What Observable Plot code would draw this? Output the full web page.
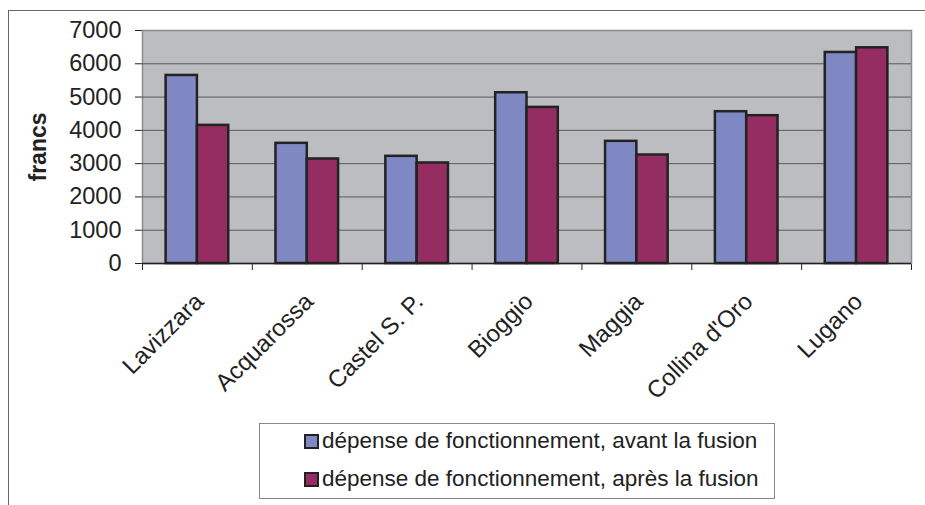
<!DOCTYPE html>
<html>
<head>
<meta charset="utf-8">
<script src="https://cdn.jsdelivr.net/npm/d3@7"></script>
<script src="https://cdn.jsdelivr.net/npm/@observablehq/plot@0.6"></script>
<style>
  html, body { margin: 0; padding: 0; background: #fff; }
  #wrap { position: relative; width: 925px; height: 505px; overflow: hidden; font-family: "Liberation Sans", Arial, sans-serif; }
  #border { position: absolute; left: 8px; top: 10px; right: -2px; bottom: -2px; border-top: 1px solid #666; border-left: 1px solid #666; pointer-events: none; }
  #legend { position: absolute; left: 259px; top: 423px; width: 516px; height: 76px; border: 1px solid #888; box-sizing: border-box; background: #fff; font-size: 22.5px; color: #222; }
  .row { position: absolute; left: 44px; display: flex; align-items: center; white-space: nowrap; }
  .sw { width: 11px; height: 11px; border: 2px solid #222; margin-right: 3px; }
</style>
</head>
<body>
<div id="wrap">
  <div id="chart"></div>
  <div id="border"></div>
  <div id="legend"></div>
</div>
<script>
const cities = ["Lavizzara", "Acquarossa", "Castel S. P.", "Bioggio", "Maggia", "Collina d'Oro", "Lugano"];
const avant = [5650, 3610, 3220, 5130, 3670, 4560, 6340];
const apres = [4150, 3140, 3020, 4690, 3260, 4440, 6480];
const seriesNames = ["dépense de fonctionnement, avant la fusion", "dépense de fonctionnement, après la fusion"];
const seriesColors = ["#7f88c2", "#952d62"];
const yTicks = [0, 1000, 2000, 3000, 4000, 5000, 6000, 7000];
const yLabel = "francs";

const rows = [];
cities.forEach((c, i) => {
  rows.push({i, city: c, s: 0, value: avant[i]});
  rows.push({i, city: c, s: 1, value: apres[i]});
});

const font = "Liberation Sans, Arial, sans-serif";
const chart = Plot.plot({
  width: 925,
  height: 505,
  marginLeft: 142,
  marginRight: 14,
  marginTop: 30,
  marginBottom: 242,
  style: {fontFamily: font, fontSize: "23.5px", color: "#222", background: "transparent"},
  x: {domain: [0, cities.length], ticks: d3.range(cities.length + 1), tickFormat: () => "", tickSize: 7, line: true, label: null},
  y: {domain: [0, 7000], ticks: yTicks, tickSize: 7, tickPadding: 14, line: true, label: null, tickFormat: d => String(d)},
  marks: [
    Plot.frame({fill: "#bcbdc1", stroke: "#8c8c8c", strokeWidth: 1.5}),
    Plot.ruleY(yTicks.filter(v => v > 0 && v < 7000), {stroke: "#5a5a5a", strokeWidth: 1}),
    Plot.rectY(rows, {
      x1: d => d.i + (d.s === 0 ? 0.215 : 0.5),
      x2: d => d.i + (d.s === 0 ? 0.5 : 0.785),
      y1: 0,
      y2: "value",
      fill: d => seriesColors[d.s],
      stroke: "#222",
      strokeWidth: 2.5
    }),
    Plot.ruleY([0], {stroke: "#222", strokeWidth: 1.5}),
    Plot.text(cities, {
      x: (d, i) => i + 0.5,
      y: () => 0,
      text: d => d,
      rotate: -45,
      textAnchor: "end",
      dx: 2,
      dy: 34,
      fontSize: 24,
      fill: "#222"
    }),
    Plot.text([yLabel], {
      frameAnchor: "left",
      textAnchor: "middle",
      text: d => d,
      rotate: -90,
      dx: -104,
      fontSize: 23,
      fontWeight: "bold",
      fill: "#222"
    })
  ]
});
document.getElementById("chart").appendChild(chart);

const legend = document.getElementById("legend");
seriesNames.forEach((name, k) => {
  const row = document.createElement("div");
  row.className = "row";
  row.style.top = (k === 0 ? 4 : 42) + "px";
  const sw = document.createElement("span");
  sw.className = "sw";
  sw.style.background = seriesColors[k];
  const t = document.createElement("span");
  t.textContent = name;
  row.appendChild(sw);
  row.appendChild(t);
  legend.appendChild(row);
});
</script>
</body>
</html>
